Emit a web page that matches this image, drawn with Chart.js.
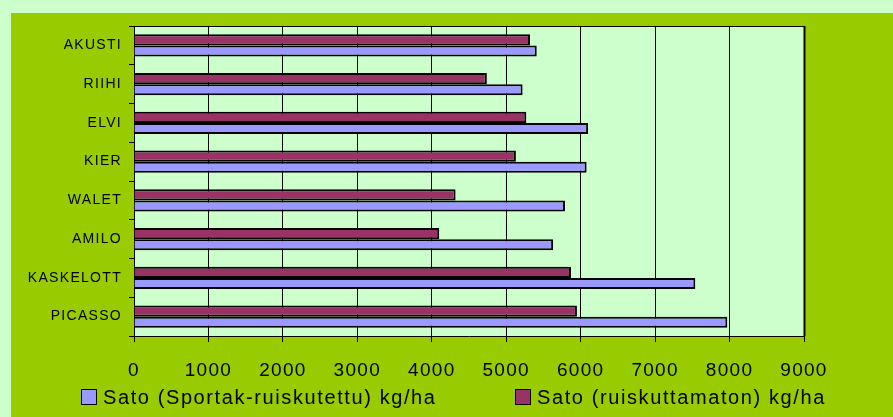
<!DOCTYPE html>
<html>
<head>
<meta charset="utf-8">
<script src="https://cdn.jsdelivr.net/npm/chart.js@4"></script>
<style>
    body { margin: 0; background: #ccffcc; width: 893px; height: 417px; overflow: hidden; position: relative; font-family: 'Liberation Sans', Arial, sans-serif; }
    .panel { position: absolute; left: 11px; top: 13px; width: 882px; height: 404px; background: #99cc00; }
    #chart { position: absolute; left: 0; top: 0; }
    .legend-item { position: absolute; top: 386px; height: 22px; display: flex; align-items: center; font-size: 20px; letter-spacing: 1.6px; color: #000; white-space: nowrap; }
    .legend-box { width: 14px; height: 14px; border: 1px solid #000; margin-right: 6px; }
</style>
</head>
<body>
<div class="panel"></div>
<canvas id="chart" width="893" height="417"></canvas>
<div class="legend-item" style="left: 81px;"><span class="legend-box" style="background: #9999ff;"></span><span id="lbl1"></span></div>
<div class="legend-item" style="left: 515px;"><span class="legend-box" style="background: #993366;"></span><span id="lbl2"></span></div>
<script>
const categories = ['AKUSTI', 'RIIHI', 'ELVI', 'KIER', 'WALET', 'AMILO', 'KASKELOTT', 'PICASSO'];
const sprayedLabel = 'Sato (Sportak-ruiskutettu) kg/ha';
const unsprayedLabel = 'Sato (ruiskuttamaton) kg/ha';
const sprayed = [5410, 5220, 6100, 6080, 5790, 5630, 7540, 7970];
const unsprayed = [5320, 4740, 5270, 5130, 4320, 4100, 5870, 5950];
const xTicks = [0, 1000, 2000, 3000, 4000, 5000, 6000, 7000, 8000, 9000];

document.getElementById('lbl1').textContent = sprayedLabel;
document.getElementById('lbl2').textContent = unsprayedLabel;

// plot background, frame and letter spacing like the original
const plotFrame = {
    id: 'plotFrame',
    beforeLayout(chart) {
        chart.ctx.letterSpacing = '1.3px';
    },
    beforeDraw(chart) {
        const ctx = chart.ctx;
        const a = chart.chartArea;
        ctx.letterSpacing = '1.3px';
        ctx.save();
        ctx.fillStyle = '#ccffcc';
        ctx.fillRect(a.left, a.top, a.right - a.left, a.bottom - a.top);
        ctx.restore();
    },
    afterDraw(chart) {
        const ctx = chart.ctx;
        const a = chart.chartArea;
        ctx.save();
        ctx.strokeStyle = '#000';
        ctx.lineWidth = 1;
        ctx.beginPath();
        ctx.moveTo(a.left, a.top + 0.5);
        ctx.lineTo(a.right, a.top + 0.5);
        ctx.stroke();
        ctx.lineWidth = 2;
        ctx.beginPath();
        ctx.moveTo(a.right + 0.5, a.top);
        ctx.lineTo(a.right + 0.5, a.bottom);
        ctx.stroke();
        ctx.restore();
    }
};

const ctx = document.getElementById('chart').getContext('2d');
new Chart(ctx, {
    type: 'bar',
    data: {
        labels: categories,
        datasets: [{
            label: unsprayedLabel,
            data: unsprayed,
            backgroundColor: '#993366',
            borderColor: '#000',
            borderWidth: 2
        }, {
            label: sprayedLabel,
            data: sprayed,
            backgroundColor: '#9999ff',
            borderColor: '#000',
            borderWidth: 2
        }]
    },
    options: {
        indexAxis: 'y',
        responsive: false,
        animation: false,
        devicePixelRatio: 1,
        barPercentage: 1,
        categoryPercentage: 0.58,
        layout: { padding: { left: 0, right: 89, top: 26, bottom: 0 } },
        plugins: {
            legend: { display: false },
            tooltip: { enabled: false }
        },
        scales: {
            x: {
                min: 0,
                max: 9000,
                afterBuildTicks(scale) {
                    scale.ticks = xTicks.map(v => ({ value: v }));
                },
                afterFit(scale) { scale.height = 81; },
                grid: { color: '#000', lineWidth: 1, tickLength: 6, drawTicks: true },
                border: { display: true, color: '#000', width: 1 },
                ticks: {
                    color: '#000',
                    padding: 17,
                    maxRotation: 0,
                    callback: v => String(v),
                    font: { family: "'Liberation Sans', Arial, sans-serif", size: 19 }
                }
            },
            y: {
                afterFit(scale) { scale.width = 134; },
                grid: { offset: true, drawOnChartArea: false, drawTicks: true, tickLength: 5, color: '#000' },
                border: { display: true, color: '#000', width: 1 },
                ticks: {
                    color: '#000',
                    padding: 7,
                    font: { family: "'Liberation Sans', Arial, sans-serif", size: 14 }
                }
            }
        }
    },
    plugins: [plotFrame]
});
</script>
</body>
</html>
